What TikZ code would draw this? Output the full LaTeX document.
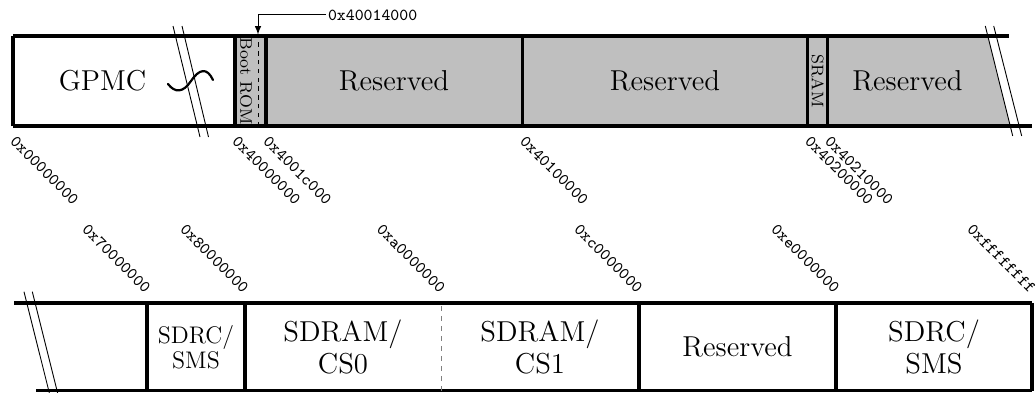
\documentclass[tikz,border=0pt]{standalone}
\begin{document}
\begin{tikzpicture}[x=0.5pt,y=0.5pt,
  bar/.style={draw=drawColor,line width=1.6pt,line join=miter},
  brk/.style={draw=drawColor,line width=0.45pt},
  region/.style={text=drawColor,inner sep=0pt,outer sep=0pt,align=center,font=\fontsize{14.4}{16}\selectfont},
  narrow/.style={text=drawColor,rotate=-90,inner sep=0pt,outer sep=0pt,font=\fontsize{8.4}{10}\selectfont},
  addr/.style={text=drawColor,inner sep=0pt,outer sep=0pt,font=\fontsize{8.4}{10}\selectfont\ttfamily}]
\definecolor{fillColor}{RGB}{255,255,255}
\path[use as bounding box,fill=fillColor,fill opacity=0.00] (0,0) rectangle (1036,392);

% upper map
\definecolor{fillColor}{RGB}{191,191,191}
\definecolor{drawColor}{RGB}{0,0,0}
\path[fill=fillColor] ( 235.0,266.0) -- ( 235.0,356.0) -- ( 987.8,356.0) -- (1010.2,266.0) -- cycle;

\path[bar] (  13.0,356.0) -- (1009.0,356.0);
\path[bar] (  13.0,266.0) -- (1032.0,266.0);
\path[bar] (  13.0,266.0) -- (  13.0,356.0);
\foreach \xx in {235.0,266.0,522.7,807.7,827.7}
  \path[bar] (\xx,266.0) -- (\xx,356.0);
\path[draw=drawColor,line width=0.5pt,dash pattern=on 2.2pt off 2.2pt] (258.0,266.0) -- (258.0,356.0);

\path[brk] ( 173.0,366.0) -- ( 200.0,255.0);
\path[brk] ( 182.0,366.0) -- ( 208.5,255.0);
\path[brk] ( 985.3,366.0) -- (1012.7,256.0);
\path[brk] ( 993.7,366.0) -- (1021.7,256.0);
\path[draw=drawColor,line width=1.1pt,line cap=round] (168.0,308.0) .. controls (175.0,299.0) and (183.0,299.0) .. (191.0,311.0)
  .. controls (199.0,323.0) and (207.0,325.0) .. (213.0,312.0);

\node[region] (gpmc) at (102.5,311.0) {GPMC};
\node[narrow] (bootrom) at (246.0,311.0) {Boot ROM};
\node[region] (resa) at (394.0,311.0) {Reserved};
\node[region] (resb) at (665.0,311.0) {Reserved};
\node[narrow] (sram) at (817.7,311.0) {SRAM};
\node[region] (resc) at (907.5,311.0) {Reserved};

\node[addr,rotate=-45,anchor=west] (a0) at (  13.0,253.0) {0x00000000};
\node[addr,rotate=-45,anchor=west] (a1) at ( 235.0,253.0) {0x40000000};
\node[addr,rotate=-45,anchor=west] (a2) at ( 266.0,253.0) {0x4001c000};
\node[addr,rotate=-45,anchor=west] (a3) at ( 522.7,253.0) {0x40100000};
\node[addr,rotate=-45,anchor=west] (a4) at ( 807.7,253.0) {0x40200000};
\node[addr,rotate=-45,anchor=west] (a5) at ( 827.7,253.0) {0x40210000};

\node[addr,anchor=west,outer sep=1pt] (splitlbl) at (326.0,377.0) {0x40014000};
\coordinate (bootsplit) at (258.0,357.4);
\draw[draw=drawColor,line width=0.5pt,-latex] (splitlbl.west) -| (bootsplit);

% lower map
\path[bar] (  14.0, 89.0) -- (1032.0, 89.0);
\path[bar] (  36.0,  1.5) -- (1032.0,  1.5);
\foreach \xx in {147.0,245.0,639.0,836.0,1032.0}
  \path[bar] (\xx,1.5) -- (\xx,89.0);
\definecolor{drawColor}{RGB}{128,128,128}
\path[draw=drawColor,line width=0.5pt,dash pattern=on 2.5pt off 2.5pt] (441.7,1.5) -- (441.7,89.0);
\definecolor{drawColor}{RGB}{0,0,0}

\path[brk] (  24.0,100.3) -- (  50.6, -6.0);
\path[brk] (  32.3,100.3) -- (  58.9, -6.0);

\node[region,font=\fontsize{12}{12.5}\selectfont] (sdrca) at (196.0, 45.0) {SDRC/\\SMS};
\node[region] (sdram0) at (343.0, 45.0) {SDRAM/\\CS0};
\node[region] (sdram1) at (540.0, 45.0) {SDRAM/\\CS1};
\node[region] (resd) at (737.5, 45.0) {Reserved};
\node[region] (sdrcb) at (934.0, 45.0) {SDRC/\\SMS};

\node[addr,rotate=-45,anchor=east] (b0) at ( 148.0,102.0) {0x70000000};
\node[addr,rotate=-45,anchor=east] (b1) at ( 246.0,102.0) {0x80000000};
\node[addr,rotate=-45,anchor=east] (b2) at ( 442.7,102.0) {0xa0000000};
\node[addr,rotate=-45,anchor=east] (b3) at ( 640.0,102.0) {0xc0000000};
\node[addr,rotate=-45,anchor=east] (b4) at ( 837.0,102.0) {0xe0000000};
\node[addr,rotate=-45,anchor=east] (b5) at (1033.0,102.0) {0xffffffff};
\end{tikzpicture}
\end{document}
